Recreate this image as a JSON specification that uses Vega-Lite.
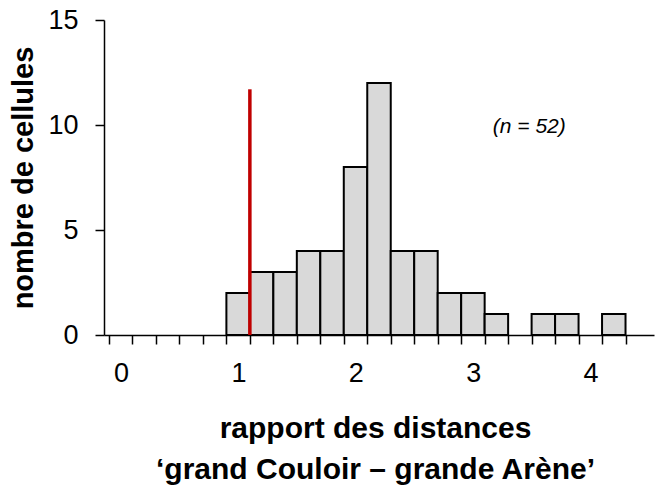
{
  "$schema": "https://vega.github.io/schema/vega-lite/v6.json",
  "width": 550,
  "height": 315,
  "autosize": {"type": "none"},
  "padding": {"left": 104, "top": 20, "right": 1, "bottom": 154},
  "background": "white",
  "config": {"view": {"stroke": null}, "font": "Liberation Sans"},
  "layer": [
    {
      "data": {
        "values": [
          {"start": 0.9, "end": 1.1, "count": 2},
          {"start": 1.1, "end": 1.3, "count": 3},
          {"start": 1.3, "end": 1.5, "count": 3},
          {"start": 1.5, "end": 1.7, "count": 4},
          {"start": 1.7, "end": 1.9, "count": 4},
          {"start": 1.9, "end": 2.1, "count": 8},
          {"start": 2.1, "end": 2.3, "count": 12},
          {"start": 2.3, "end": 2.5, "count": 4},
          {"start": 2.5, "end": 2.7, "count": 4},
          {"start": 2.7, "end": 2.9, "count": 2},
          {"start": 2.9, "end": 3.1, "count": 2},
          {"start": 3.1, "end": 3.3, "count": 1},
          {"start": 3.5, "end": 3.7, "count": 1},
          {"start": 3.7, "end": 3.9, "count": 1},
          {"start": 4.1, "end": 4.3, "count": 1}
        ]
      },
      "mark": {"type": "bar", "orient": "vertical", "fill": "#d9d9d9", "stroke": "black", "strokeWidth": 2},
      "encoding": {
        "x": {
          "field": "start",
          "type": "quantitative",
          "scale": {"domain": [-0.1, 4.5], "nice": false, "zero": false},
          "axis": {
            "values": [-0.1, 0.1, 0.3, 0.5, 0.7, 0.9, 1.1, 1.3, 1.5, 1.7, 1.9, 2.1, 2.3, 2.5, 2.7, 2.9, 3.1, 3.3, 3.5, 3.7, 3.9, 4.1, 4.3],
            "tickCount": 40,
            "labelExpr": "indexof([-0.1, 0.9, 1.9, 2.9, 3.9], datum.value) >= 0 ? '' + round(datum.value + 0.1) : ''",
            "labelOffset": 12,
            "labelFlush": false,
            "labelBound": false,
            "labelOverlap": false,
            "labelFontSize": 27,
            "labelColor": "black",
            "labelPadding": 16,
            "grid": false,
            "domainColor": "black",
            "domainWidth": 1.5,
            "tickColor": "black",
            "tickWidth": 1.5,
            "tickSize": 9,
            "title": ["rapport des distances", "‘grand Couloir – grande Arène’"],
            "titleFontSize": 30,
            "titleFontWeight": "bold",
            "titleColor": "black",
            "titleLineHeight": 41,
            "titlePadding": 27,
            "titleX": 271
          }
        },
        "x2": {"field": "end"},
        "y": {
          "field": "count",
          "type": "quantitative",
          "scale": {"domain": [0, 15], "nice": false},
          "axis": {
            "values": [0, 5, 10, 15],
            "labelFontSize": 27,
            "labelColor": "black",
            "labelPadding": 17,
            "grid": false,
            "domainColor": "black",
            "domainWidth": 1.5,
            "tickColor": "black",
            "tickWidth": 1.5,
            "tickSize": 9,
            "title": "nombre de cellules",
            "titleFontSize": 29,
            "titleFontWeight": "bold",
            "titleColor": "black",
            "titlePadding": 9
          }
        },
        "y2": {"datum": 0}
      }
    },
    {
      "data": {"values": [{"ratio": 1.1, "top": 11.7, "bottom": 0}]},
      "mark": {"type": "rule", "color": "#c00000", "strokeWidth": 3.5},
      "encoding": {
        "x": {"field": "ratio", "type": "quantitative"},
        "y": {"field": "top", "type": "quantitative"},
        "y2": {"field": "bottom"}
      }
    },
    {
      "data": {"values": [{"px": 3.48, "py": 9.9, "label": "(n = 52)"}]},
      "mark": {"type": "text", "fontStyle": "italic", "fontSize": 21, "color": "black", "align": "center", "baseline": "middle"},
      "encoding": {
        "x": {"field": "px", "type": "quantitative"},
        "y": {"field": "py", "type": "quantitative"},
        "text": {"field": "label"}
      }
    }
  ]
}
